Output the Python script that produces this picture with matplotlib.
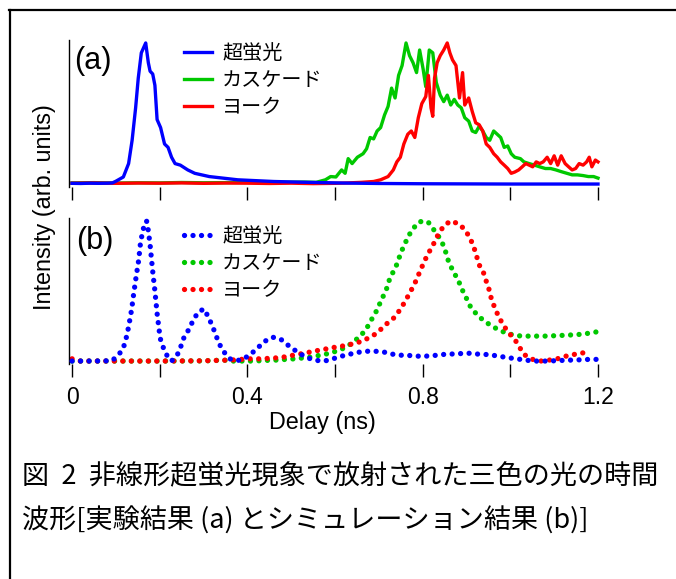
import matplotlib
matplotlib.use("Agg")
import matplotlib.pyplot as plt
from matplotlib.lines import Line2D

plt.rcParams["font.family"] = ["Liberation Sans", "Noto Sans CJK JP", "DejaVu Sans"]

# ---- data (delay in ns, intensity normalised) ----
labels = ["超蛍光", "カスケード", "ヨーク"]
colors = ["#0000ff", "#00c800", "#ff0000"]

# (a) experiment
sf_a = [(0, 0.005), (0.02, 0.004), (0.04, 0.006), (0.06, 0.005), (0.08, 0.006), (0.092, 0.008),
        (0.10, 0.02), (0.117, 0.05), (0.129, 0.145), (0.137, 0.31), (0.145, 0.54), (0.151, 0.75),
        (0.158, 0.93), (0.163, 0.965), (0.168, 1.0), (0.174, 0.86), (0.178, 0.80), (0.184, 0.78),
        (0.189, 0.70), (0.194, 0.457), (0.202, 0.40), (0.211, 0.284), (0.219, 0.26), (0.227, 0.19),
        (0.235, 0.145), (0.247, 0.134), (0.264, 0.10), (0.28, 0.076), (0.313, 0.053), (0.378, 0.03),
        (0.46, 0.018), (0.54, 0.012), (0.62, 0.007), (0.70, 0.004), (0.80, 0.002), (0.90, 0.001),
        (1.0, 0.0), (1.1, 0.0), (1.2, 0.0)]
cas_a = [(0, 0.008), (0.05, 0.010), (0.1, 0.007), (0.15, 0.009), (0.2, 0.008), (0.25, 0.011),
         (0.3, 0.009), (0.35, 0.010), (0.4, 0.012), (0.45, 0.011), (0.5, 0.013), (0.53, 0.014),
         (0.557, 0.012), (0.578, 0.03), (0.59, 0.053), (0.602, 0.05), (0.615, 0.10), (0.623, 0.076),
         (0.63, 0.18), (0.639, 0.145), (0.651, 0.19), (0.664, 0.215), (0.672, 0.25), (0.68, 0.33),
         (0.688, 0.32), (0.696, 0.376), (0.704, 0.40), (0.713, 0.49), (0.721, 0.55), (0.729, 0.68),
         (0.737, 0.61), (0.745, 0.77), (0.753, 0.84), (0.762, 1.0), (0.77, 0.91), (0.778, 0.86),
         (0.786, 0.79), (0.793, 0.95), (0.801, 0.815), (0.807, 0.69), (0.815, 0.95), (0.823, 0.93),
         (0.831, 0.72), (0.84, 0.63), (0.848, 0.584), (0.856, 0.63), (0.864, 0.56), (0.872, 0.60),
         (0.88, 0.56), (0.888, 0.54), (0.896, 0.47), (0.905, 0.446), (0.913, 0.376), (0.921, 0.365),
         (0.929, 0.41), (0.937, 0.376), (0.945, 0.33), (0.953, 0.31), (0.962, 0.376), (0.97, 0.353),
         (0.978, 0.33), (0.986, 0.26), (0.994, 0.27), (1.002, 0.215), (1.01, 0.19), (1.023, 0.18),
         (1.031, 0.157), (1.043, 0.145), (1.055, 0.134), (1.067, 0.122), (1.08, 0.11), (1.092, 0.11),
         (1.104, 0.10), (1.116, 0.088), (1.129, 0.076), (1.141, 0.065), (1.153, 0.065), (1.166, 0.06),
         (1.178, 0.053), (1.19, 0.053), (1.2, 0.042)]
yoke_a = [(0, 0.006), (0.05, 0.008), (0.1, 0.005), (0.15, 0.007), (0.2, 0.006), (0.25, 0.008),
          (0.3, 0.005), (0.35, 0.007), (0.4, 0.006), (0.45, 0.004), (0.5, 0.006), (0.55, 0.003),
          (0.6, 0.005), (0.63, 0.008), (0.66, 0.012), (0.688, 0.018), (0.704, 0.03), (0.721, 0.053),
          (0.733, 0.10), (0.741, 0.157), (0.749, 0.19), (0.757, 0.284), (0.766, 0.353), (0.774, 0.376),
          (0.782, 0.33), (0.79, 0.47), (0.798, 0.57), (0.807, 0.62), (0.813, 0.77), (0.819, 0.54),
          (0.823, 0.48), (0.827, 0.75), (0.833, 0.86), (0.84, 0.91), (0.848, 0.95), (0.856, 1.0),
          (0.862, 0.93), (0.868, 0.88), (0.876, 0.84), (0.884, 0.61), (0.891, 0.79), (0.896, 0.56),
          (0.905, 0.61), (0.913, 0.515), (0.921, 0.434), (0.929, 0.42), (0.937, 0.376), (0.945, 0.284),
          (0.953, 0.26), (0.962, 0.215), (0.97, 0.19), (0.978, 0.157), (0.986, 0.134), (0.994, 0.11),
          (1.002, 0.076), (1.01, 0.085), (1.019, 0.10), (1.027, 0.122), (1.035, 0.145), (1.043, 0.134),
          (1.051, 0.122), (1.059, 0.157), (1.067, 0.145), (1.075, 0.157), (1.084, 0.19), (1.092, 0.145),
          (1.1, 0.20), (1.108, 0.134), (1.116, 0.20), (1.125, 0.145), (1.133, 0.122), (1.141, 0.10),
          (1.149, 0.11), (1.157, 0.145), (1.166, 0.134), (1.174, 0.157), (1.18, 0.19), (1.186, 0.122),
          (1.194, 0.17), (1.2, 0.157)]

# (b) simulation
sf_b = [(0, 0.0), (0.05, 0.0), (0.09, 0.002), (0.096, 0.016), (0.113, 0.07), (0.121, 0.128),
        (0.129, 0.244), (0.136, 0.37), (0.141, 0.49), (0.147, 0.62), (0.152, 0.72), (0.156, 0.84),
        (0.162, 0.94), (0.17, 1.0), (0.174, 0.93), (0.178, 0.83), (0.184, 0.64), (0.189, 0.50),
        (0.194, 0.34), (0.201, 0.163), (0.207, 0.105), (0.215, 0.047), (0.227, 0.0), (0.243, 0.058),
        (0.256, 0.174), (0.268, 0.233), (0.276, 0.29), (0.288, 0.35), (0.301, 0.372), (0.311, 0.314),
        (0.321, 0.244), (0.335, 0.128), (0.345, 0.07), (0.362, 0.012), (0.382, 0.005), (0.402, 0.035),
        (0.419, 0.08), (0.439, 0.14), (0.458, 0.17), (0.476, 0.156), (0.496, 0.105), (0.517, 0.058),
        (0.537, 0.023), (0.556, 0.005), (0.576, 0.0), (0.595, 0.016), (0.615, 0.035), (0.635, 0.05),
        (0.654, 0.063), (0.672, 0.07), (0.692, 0.07), (0.713, 0.063), (0.729, 0.05), (0.748, 0.042),
        (0.768, 0.04), (0.789, 0.035), (0.807, 0.035), (0.827, 0.04), (0.847, 0.047), (0.865, 0.05),
        (0.884, 0.053), (0.904, 0.056), (0.925, 0.05), (0.944, 0.047), (0.963, 0.04), (0.983, 0.03),
        (1.002, 0.021), (1.023, 0.012), (1.039, 0.005), (1.06, 0.0), (1.08, 0.0), (1.1, 0.002),
        (1.121, 0.005), (1.14, 0.007), (1.16, 0.009), (1.18, 0.012), (1.2, 0.012)]
cas_b = [(0, 0.0), (0.1, 0.0), (0.2, 0.0), (0.3, 0.001), (0.345, 0.007), (0.366, 0.0),
         (0.386, 0.0), (0.407, 0.0), (0.427, 0.002), (0.447, 0.005), (0.468, 0.007), (0.488, 0.012),
         (0.508, 0.016), (0.529, 0.023), (0.548, 0.03), (0.566, 0.042), (0.584, 0.053), (0.602, 0.07),
         (0.621, 0.093), (0.639, 0.128), (0.66, 0.186), (0.672, 0.233), (0.684, 0.30), (0.695, 0.36),
         (0.705, 0.43), (0.717, 0.51), (0.725, 0.59), (0.735, 0.65), (0.744, 0.71), (0.749, 0.767),
         (0.758, 0.826), (0.766, 0.884), (0.777, 0.94), (0.79, 0.99), (0.801, 1.0), (0.813, 0.99),
         (0.827, 0.93), (0.84, 0.872), (0.849, 0.814), (0.86, 0.70), (0.872, 0.628), (0.882, 0.57),
         (0.89, 0.51), (0.899, 0.453), (0.909, 0.388), (0.925, 0.326), (0.943, 0.28), (0.963, 0.24),
         (0.983, 0.21), (1.002, 0.19), (1.021, 0.18), (1.041, 0.178), (1.06, 0.178), (1.078, 0.178),
         (1.096, 0.18), (1.117, 0.183), (1.137, 0.186), (1.157, 0.19), (1.178, 0.198), (1.2, 0.21)]
yoke_b = [(0, 0.016), (0.019, 0.0), (0.1, 0.0), (0.2, 0.0), (0.3, 0.002), (0.362, 0.007),
          (0.386, 0.012), (0.407, 0.016), (0.427, 0.016), (0.447, 0.019), (0.468, 0.023), (0.486, 0.03),
          (0.505, 0.042), (0.525, 0.053), (0.544, 0.065), (0.563, 0.077), (0.582, 0.088), (0.602, 0.10),
          (0.623, 0.11), (0.641, 0.123), (0.66, 0.14), (0.678, 0.167), (0.696, 0.20), (0.714, 0.256),
          (0.735, 0.31), (0.748, 0.365), (0.76, 0.426), (0.77, 0.484), (0.781, 0.547), (0.789, 0.605),
          (0.797, 0.663), (0.805, 0.72), (0.815, 0.78), (0.825, 0.837), (0.834, 0.895), (0.848, 0.965),
          (0.864, 1.0), (0.884, 0.977), (0.898, 0.93), (0.909, 0.872), (0.918, 0.80), (0.929, 0.686),
          (0.939, 0.628), (0.945, 0.57), (0.952, 0.505), (0.957, 0.44), (0.964, 0.384), (0.972, 0.326),
          (0.982, 0.267), (0.994, 0.21), (1.011, 0.15), (1.031, 0.047), (1.051, 0.012), (1.071, 0.0),
          (1.089, 0.007), (1.107, 0.016), (1.127, 0.035), (1.145, 0.047), (1.165, 0.058), (1.184, 0.063)]

caption1 = "図  2  非線形超蛍光現象で放射された三色の光の時間"
caption2 = "波形[実験結果 (a) とシミュレーション結果 (b)]"

W, H = 676, 579
fig = plt.figure(figsize=(W / 100, H / 100), dpi=100)


def rect(l, t, r, b):
    return [l / W, 1 - b / H, (r - l) / W, (b - t) / H]


def style_axis(ax, show_labels):
    for s in ["top", "right", "bottom"]:
        ax.spines[s].set_visible(False)
    ax.spines["left"].set_linewidth(1.0)
    ax.set_yticks([])
    ax.set_xlim(-0.007, 1.2)
    ax.set_xticks([0, 0.2, 0.4, 0.6, 0.8, 1.0, 1.2])
    ax.tick_params(axis="x", direction="out", length=9.5, width=1.0, pad=6, labelsize=16.5)
    if show_labels:
        ax.set_xticklabels(["0", "", "0.4", "", "0.8", "", "1.2"])
    else:
        ax.set_xticklabels([])


ax_a = fig.add_axes(rect(69, 40, 598, 187))
ax_b = fig.add_axes(rect(69, 218, 598, 364))

for data, lab, c, z in zip([sf_a, cas_a, yoke_a], labels, colors, [3, 1, 2]):
    xs, ys = zip(*data)
    ax_a.plot(xs, ys, color=c, lw=2.4, label=lab, zorder=z, clip_on=False)
ax_a.set_ylim(-0.021, 1.021)
style_axis(ax_a, False)

for data, lab, c, z in zip([sf_b, cas_b, yoke_b], labels, colors, [3, 1, 2]):
    xs, ys = zip(*data)
    ax_b.plot(xs, ys, color=c, lw=3.8, ls=(0, (0.01, 1.6)), dash_capstyle="round",
              label=lab, zorder=z, clip_on=False)
ax_b.set_ylim(-0.021, 1.021)
style_axis(ax_b, True)

for ax, y0 in [(ax_a, 44), (ax_b, 227)]:
    ax.legend(loc="upper left", bbox_to_anchor=(184 / W, 1 - y0 / H), bbox_transform=fig.transFigure,
              frameon=False, fontsize=14.5, handlelength=1.4, handletextpad=0.5,
              labelspacing=0.4, borderpad=0, borderaxespad=0)

fig.text(74 / W, 1 - 61 / H, "(a)", fontsize=22, va="center")
fig.text(76 / W, 1 - 241 / H, "(b)", fontsize=22, va="center")
fig.text(45 / W, 1 - 207 / H, "Intensity (arb. units)", rotation=90, fontsize=16.8,
         ha="center", va="center")
fig.text(322 / W, 1 - 422 / H, "Delay (ns)", fontsize=16.8, ha="center", va="center")

fig.text(22 / W, 1 - 477 / H, caption1, fontsize=19.5, va="center", family=["Noto Sans CJK JP"])
fig.text(22 / W, 1 - 521 / H, caption2, fontsize=19.5, va="center", family=["Noto Sans CJK JP"])

# outer frame (top and left edges only)
fig.add_artist(Line2D([9 / W, 1], [1 - 10 / H, 1 - 10 / H], color="black", lw=1.6))
fig.add_artist(Line2D([10 / W, 10 / W], [1 - 10 / H, 0], color="black", lw=1.6))

fig.savefig("out.png", dpi=100)
